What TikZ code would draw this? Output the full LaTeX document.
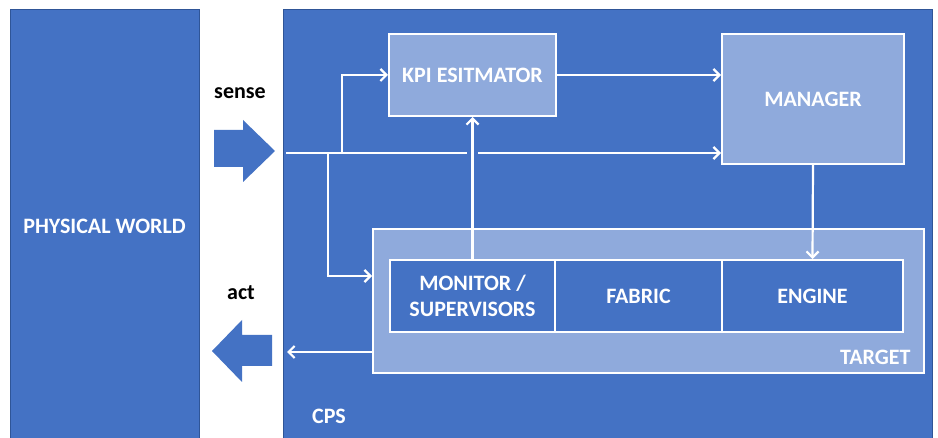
\documentclass[tikz,border=0pt]{standalone}
\usepackage{fontspec}
\setmainfont{Carlito}
\usetikzlibrary{arrows.meta}
\definecolor{cpsblue}{HTML}{4472C4}
\definecolor{lightblue}{HTML}{8FAADC}
\definecolor{edgeblue}{HTML}{2F5597}

\begin{document}
\begin{tikzpicture}[x=1pt,y=-1pt,
  lbl/.style={font=\bfseries\fontsize{22}{26}\selectfont, text=white, align=center},
  outer/.style={fill=cpsblue, draw=edgeblue, line width=0.6pt, inner sep=0pt},
  block/.style={draw=white, line width=2pt, inner sep=0pt, lbl},
  flow/.style={white, line width=2.2pt, -{Straight Barb[length=6pt,width=12pt,line width=2.2pt]}},
  wire/.style={white, line width=2.2pt}]
\useasboundingbox (0,0) rectangle (938,438);
\fill[white] (0,0) rectangle (938,438);

% the two worlds
\node[outer, minimum width=189pt, minimum height=434pt, lbl] (pw) at (104.5,226) {PHYSICAL WORLD};
\node[outer, minimum width=649pt, minimum height=434pt] (cps) at (607.5,226) {};
\node[lbl, anchor=center] (cpslbl) at (329,416) {CPS};

% sense / act arrows between the worlds
\fill[cpsblue] (214,130) -- (243,130) -- (243,120) -- (275,151) -- (243,182) -- (243,167) -- (214,167) -- cycle;
\fill[cpsblue] (272,335) -- (242,335) -- (242,320) -- (212,351) -- (242,382) -- (242,366) -- (272,366) -- cycle;
\node[font=\bfseries\fontsize{22}{26}\selectfont] (sense) at (240,93) {sense};
\node[font=\bfseries\fontsize{22}{26}\selectfont] (act) at (241,293) {act};

% blocks
\node[block, fill=lightblue, minimum width=167pt, minimum height=82pt] (kpi) at (472.5,75) {KPI ESITMATOR};
\node[block, fill=lightblue, minimum width=182pt, minimum height=130pt] (mgr) at (813,99) {MANAGER};
\node[block, fill=lightblue, minimum width=551pt, minimum height=144pt] (target) at (648.5,301) {};
\node[lbl, anchor=east] (tgtlbl) at (914,357) {TARGET};
\node[block, fill=cpsblue, minimum width=165pt, minimum height=72pt] (mon) at (472.5,296) {MONITOR /\\SUPERVISORS};
\node[block, fill=cpsblue, minimum width=167pt, minimum height=72pt] (fab) at (638.5,296) {FABRIC};
\node[block, fill=cpsblue, minimum width=181pt, minimum height=72pt] (eng) at (812.5,296) {ENGINE};

% sensed data bus
\coordinate (sin) at (286,153);
\coordinate (bdown) at (327.7,153);
\coordinate (bup) at (341.7,153);
\coordinate (gapL) at (467,153);
\coordinate (gapR) at (478,153);
\coordinate (tin) at (target.west |- 0,276);
\coordinate (tout) at (target.west |- 0,352);
\coordinate (aout) at (287,352);

\draw[wire] (sin) -- (gapL);
\draw[flow] (gapR) -- (mgr.west |- gapR);
\draw[flow] (bup) |- (kpi.west);
\draw[flow] (bdown) |- (tin);

% internal flows
\draw[flow] (kpi.east) -- (mgr.west |- kpi.east);
\draw[flow] (mon.north) -- (kpi.south);
\draw[flow] (mgr.south) -- (eng.north);
\draw[flow] (tout) -- (aout);
\end{tikzpicture}
\end{document}
